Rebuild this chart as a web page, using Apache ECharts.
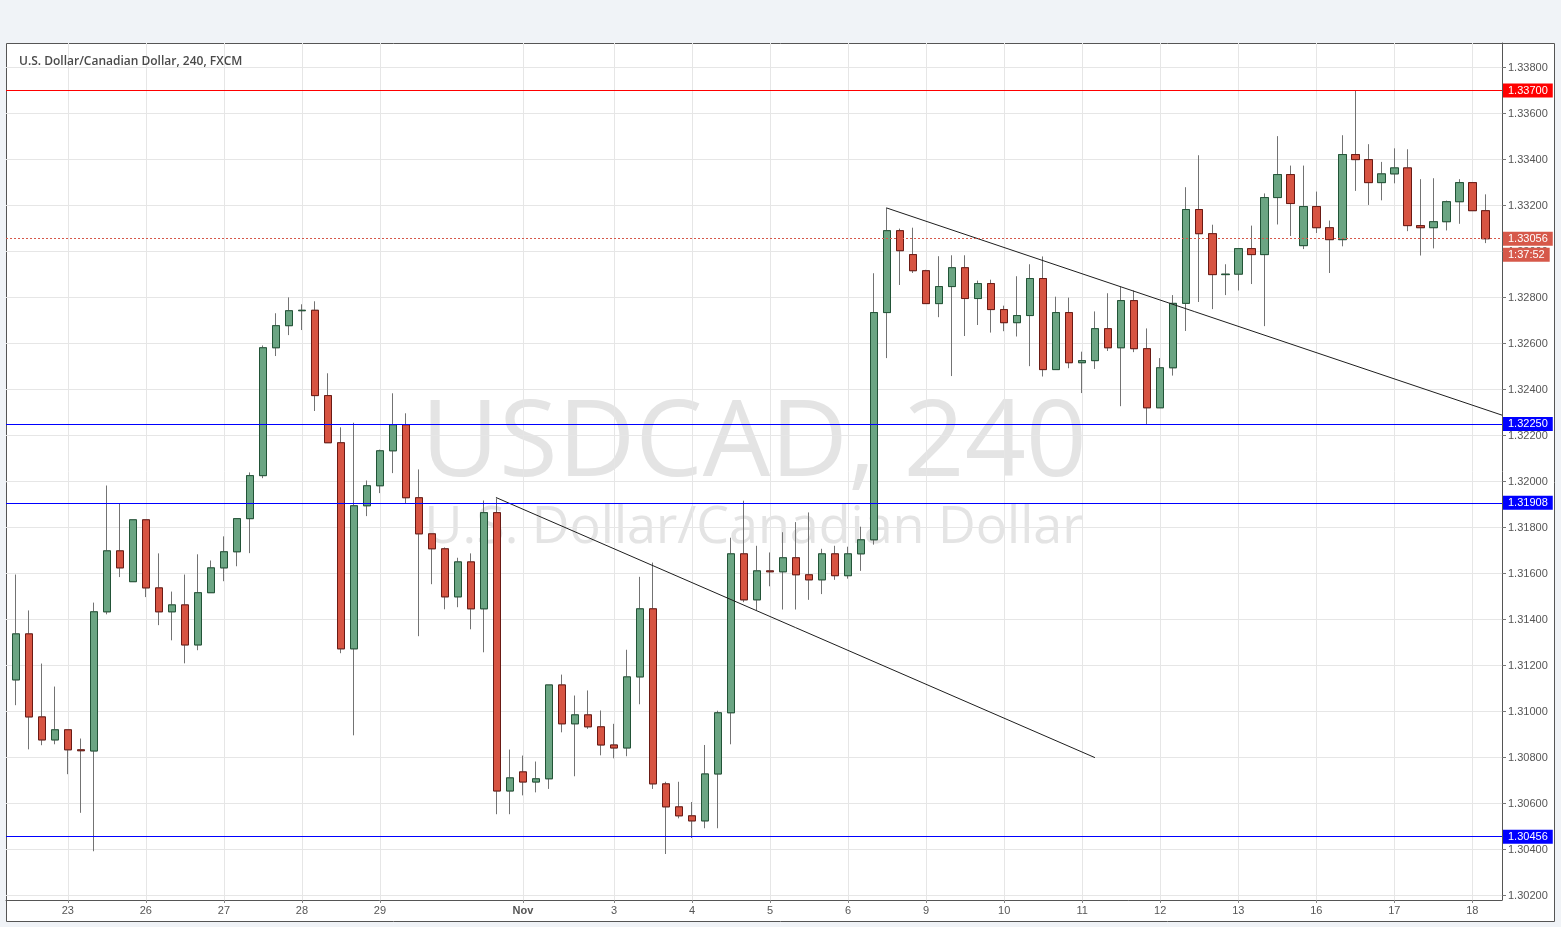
<!DOCTYPE html>
<html>
<head>
<meta charset="utf-8">
<script src="https://cdn.jsdelivr.net/npm/echarts@6/dist/echarts.min.js"></script>
<style>
html,body{margin:0;padding:0;background:#f0f3f7;}
#c{width:1561px;height:927px;}
</style>
</head>
<body>
<div id="c"></div>
<script>
// ---- data (4h candles, USD/CAD) ----
const opens = [1.31138,1.31338,1.30977,1.30877,1.30921,1.30834,1.30829,1.31434,1.31699,1.31565,
1.31834,1.31538,1.31434,1.31464,1.31290,1.31517,1.31625,1.31695,1.31839,1.32026,
1.32582,1.32678,1.32743,1.32745,1.32374,1.32169,1.31273,1.31895,1.31982,1.32134,
1.32247,1.31930,1.31773,1.31708,1.31499,1.31651,1.31447,1.31865,1.30655,1.30738,
1.30694,1.30708,1.31116,1.30947,1.30986,1.30934,1.30855,1.30842,1.31151,1.31447,
1.30686,1.30586,1.30547,1.30525,1.30729,1.30995,1.31686,1.31486,1.31612,1.31608,
1.31669,1.31595,1.31573,1.31686,1.31591,1.31686,1.31747,1.32735,1.33091,1.32987,
1.32917,1.32774,1.32848,1.32930,1.32796,1.32861,1.32748,1.32691,1.32722,1.32883,
1.32487,1.32735,1.32517,1.32526,1.32665,1.32582,1.32787,1.32578,1.32321,1.32495,
1.32775,1.33183,1.33078,1.32900,1.32902,1.33013,1.32987,1.33235,1.33335,1.33026,
1.33196,1.33104,1.33052,1.33422,1.33400,1.33300,1.33338,1.33364,1.33113,1.33104,
1.33130,1.33217,1.33300,1.33178];
const closes = [1.31338,1.30977,1.30877,1.30921,1.30834,1.30830,1.31434,1.31699,1.31625,1.31834,
1.31538,1.31434,1.31464,1.31290,1.31517,1.31625,1.31695,1.31839,1.32026,1.32582,
1.32678,1.32743,1.32745,1.32374,1.32169,1.31273,1.31895,1.31982,1.32134,1.32247,
1.31930,1.31773,1.31708,1.31499,1.31651,1.31447,1.31865,1.30655,1.30712,1.30694,
1.30708,1.31116,1.30947,1.30986,1.30934,1.30855,1.30842,1.31151,1.31447,1.30686,
1.30586,1.30547,1.30525,1.30729,1.30995,1.31686,1.31486,1.31612,1.31608,1.31669,
1.31595,1.31573,1.31686,1.31591,1.31686,1.31747,1.32735,1.33091,1.33004,1.32917,
1.32774,1.32848,1.32930,1.32796,1.32861,1.32748,1.32691,1.32722,1.32883,1.32487,
1.32735,1.32517,1.32526,1.32665,1.32582,1.32787,1.32578,1.32321,1.32495,1.32775,
1.33183,1.33078,1.32900,1.32902,1.33013,1.32987,1.33235,1.33335,1.33209,1.33196,
1.33104,1.33052,1.33422,1.33400,1.33300,1.33338,1.33364,1.33113,1.33104,1.33130,
1.33217,1.33300,1.33178,1.33056];
const lows = [1.31028,1.30836,1.30854,1.30858,1.30728,1.30560,1.30393,1.31423,1.31585,1.31565,
1.31498,1.31376,1.31310,1.31210,1.31267,1.31517,1.31567,1.31632,1.31689,1.32015,
1.32546,1.32637,1.32659,1.32307,1.32169,1.31254,1.30897,1.31850,1.31950,1.32037,
1.31906,1.31328,1.31554,1.31445,1.31454,1.31358,1.31258,1.30554,1.30554,1.30636,
1.30649,1.30664,1.30910,1.30719,1.30925,1.30810,1.30797,1.30806,1.31032,1.30664,
1.30381,1.30536,1.30451,1.30493,1.30493,1.30858,1.31476,1.31441,1.31545,1.31444,
1.31444,1.31486,1.31511,1.31573,1.31578,1.31612,1.31726,1.32537,1.32855,1.32907,
1.32774,1.32715,1.32459,1.32633,1.32681,1.32648,1.32654,1.32631,1.32502,1.32457,
1.32487,1.32493,1.32385,1.32490,1.32568,1.32328,1.32563,1.32250,1.32321,1.32461,
1.32655,1.32781,1.32750,1.32811,1.32831,1.32859,1.32676,1.33118,1.33068,1.33011,
1.33081,1.32907,1.33023,1.33264,1.33203,1.33223,1.33297,1.33089,1.32983,1.33014,
1.33092,1.33121,1.33178,1.33037];
const highs = [1.31596,1.31440,1.31209,1.31109,1.30921,1.30883,1.31474,1.31983,1.31905,1.31834,
1.31834,1.31688,1.31522,1.31596,1.31684,1.31657,1.31762,1.31839,1.32040,1.32592,
1.32732,1.32801,1.32771,1.32784,1.32471,1.32236,1.32256,1.32005,1.32139,1.32384,
1.32297,1.32053,1.31773,1.31714,1.31669,1.31688,1.31918,1.31927,1.30835,1.30809,
1.30783,1.31116,1.31161,1.31070,1.31092,1.31005,1.30947,1.31269,1.31586,1.31648,
1.30695,1.30695,1.30607,1.30855,1.31004,1.31756,1.31917,1.31721,1.31692,1.31780,
1.31824,1.31866,1.31708,1.31721,1.31717,1.31804,1.32906,1.33191,1.33100,1.33104,
1.32921,1.32980,1.32984,1.32984,1.32874,1.32878,1.32765,1.32893,1.32945,1.32979,
1.32804,1.32800,1.32565,1.32740,1.32819,1.32848,1.32831,1.32666,1.32537,1.32811,
1.33280,1.33419,1.33117,1.32945,1.33013,1.33113,1.33253,1.33502,1.33374,1.33374,
1.33261,1.33135,1.33506,1.33700,1.33467,1.33390,1.33449,1.33445,1.33315,1.33319,
1.33222,1.33315,1.33300,1.33249];

const dayTickIndex = [4,10,16,22,28,39,46,52,58,64,70,76,82,88,94,100,106,112];
const dayTickLabels = ['23','26','27','28','29','Nov','3','4','5','6','9','10','11','12','13','16','17','18'];
const priceTicks = [1.302,1.304,1.306,1.308,1.310,1.312,1.314,1.316,1.318,1.320,1.322,1.324,1.326,1.328,1.330,1.332,1.334,1.336,1.338];
const resistanceLevel = 1.33700;
const supportLevels = [1.32250, 1.31908, 1.30456];
const lastPrice = 1.33056;
const countdown = '1:37:52';
const trend1X = [36.92, 82.98];
const trend1Y = [1.31931, 1.30800];
const trend2X = [66.95, 114.28];
const trend2Y = [1.33190, 1.32289];
const chartTitle = 'U.S. Dollar/Canadian Dollar, 240, FXCM';
const watermark1 = 'USDCAD, 240';
const watermark2 = 'U.S. Dollar/Canadian Dollar';

// ---- build ----
const wickData = opens.map((o, i) => [i, o, closes[i], lows[i], highs[i]]);
const bodyData = opens.map((o, i) => [i, o, closes[i], Math.min(o, closes[i]), Math.max(o, closes[i])]);

const chart = echarts.init(document.getElementById('c'), null, {renderer: 'canvas'});

const levelLabel = (bg) => ({
  show: true, position: 'end', distance: 1,
  formatter: p => p.name,
  color: '#fff', backgroundColor: bg, fontSize: 11, fontFamily: 'Arial, "Liberation Sans"',
  padding: [2, 5, 1, 5]
});

const markData = [
  {name: resistanceLevel.toFixed(5), yAxis: resistanceLevel, lineStyle: {color: '#ff0000', type: 'solid', width: 1}, label: levelLabel('#ff0000')}
].concat(supportLevels.map(v => ({
  name: v.toFixed(5), yAxis: v, lineStyle: {color: '#0000ff', type: 'solid', width: 1}, label: levelLabel('#0000ff')
}))).concat([{
  name: lastPrice.toFixed(5), yAxis: lastPrice,
  lineStyle: {color: '#d6584a', type: [2, 2], width: 1},
  label: {
    show: true, position: 'end', distance: 1, offset: [0, 8],
    formatter: p => '{a|' + p.name + '}\n{b|' + countdown + '}',
    rich: {
      a: {color: '#fff', backgroundColor: '#d6584a', fontSize: 11, fontFamily: 'Arial, "Liberation Sans"', padding: [2, 5, 1, 5], lineHeight: 16},
      b: {color: '#fff', backgroundColor: '#d6584a', fontSize: 11, fontFamily: 'Arial, "Liberation Sans"', padding: [2, 5, 1, 5], lineHeight: 16}
    }
  }
}]);

const option = {
  backgroundColor: '#f0f3f7',
  animation: false,
  title: {
    text: chartTitle, left: 14, top: 51,
    textStyle: {fontSize: 12, fontWeight: 600, color: '#4a4a4a', fontFamily: '"Open Sans", sans-serif'}
  },
  graphic: [
    {type: 'rect', z: -20, silent: true, shape: {x: 6.5, y: 43.5, width: 1548, height: 878},
      style: {fill: '#ffffff', stroke: '#555555', lineWidth: 1}},
    {type: 'text', z: -10, silent: true, x: 754, y: 446,
      style: {text: watermark1, fill: '#e4e4e4', font: '107px "Open Sans"', textAlign: 'center', textVerticalAlign: 'middle', align: 'center', verticalAlign: 'middle'}},
    {type: 'text', z: -10, silent: true, x: 754, y: 528,
      style: {text: watermark2, fill: '#e4e4e4', font: '52px "Open Sans"', textAlign: 'center', textVerticalAlign: 'middle', align: 'center', verticalAlign: 'middle'}}
  ],
  grid: {left: 6, right: 59, top: 43, bottom: 27, containLabel: false},
  xAxis: {
    type: 'value', min: -0.754, max: 114.28,
    axisLine: {show: true, onZero: false, lineStyle: {color: '#555555'}},
    axisTick: {show: true, length: 3, lineStyle: {color: '#888'}, customValues: dayTickIndex},
    axisLabel: {
      customValues: dayTickIndex, color: '#555', fontSize: 11, margin: 5,
      fontFamily: 'Arial, "Liberation Sans"',
      formatter: v => {
        const k = dayTickIndex.indexOf(Math.round(v));
        const s = k >= 0 ? dayTickLabels[k] : '';
        return s === 'Nov' ? '{b|Nov}' : s;
      },
      rich: {b: {fontWeight: 'bold', color: '#555', fontSize: 11, fontFamily: 'Arial, "Liberation Sans"'}}
    },
    splitLine: {show: true, lineStyle: {color: '#e6e6e6', width: 1}}
  },
  yAxis: {
    type: 'value', position: 'right', scale: true, min: 1.30181, max: 1.33907,
    axisLine: {show: true, onZero: false, lineStyle: {color: '#555555'}},
    axisTick: {show: true, length: 4, lineStyle: {color: '#777'}, customValues: priceTicks},
    axisLabel: {
      customValues: priceTicks, color: '#555', fontSize: 11, margin: 6,
      fontFamily: 'Arial, "Liberation Sans"',
      formatter: v => v.toFixed(5)
    },
    splitLine: {show: true, lineStyle: {color: '#e6e6e6', width: 1}}
  },
  series: [
    {
      type: 'candlestick', name: 'wick', data: wickData, barWidth: 8, silent: true, z: 2,
      itemStyle: {color: 'rgba(0,0,0,0)', color0: 'rgba(0,0,0,0)', borderColor: '#737373', borderColor0: '#737373', borderWidth: 1}
    },
    {
      type: 'candlestick', name: 'body', data: bodyData, barWidth: 8, silent: true, z: 3,
      itemStyle: {color: '#6ba583', color0: '#d75442', borderColor: '#225437', borderColor0: '#6b1a14', borderWidth: 1},
      markLine: {silent: true, precision: 5, symbol: ['none', 'none'], animation: false, data: markData}
    },
    {
      type: 'line', name: 'trend1', data: trend1X.map((x, i) => [x, trend1Y[i]]), showSymbol: false, symbol: 'none',
      silent: true, z: 4, lineStyle: {color: '#1e1e1e', width: 1}
    },
    {
      type: 'line', name: 'trend2', data: trend2X.map((x, i) => [x, trend2Y[i]]), showSymbol: false, symbol: 'none',
      silent: true, z: 4, lineStyle: {color: '#1e1e1e', width: 1}
    }
  ]
};
chart.setOption(option);
</script>
</body>
</html>
